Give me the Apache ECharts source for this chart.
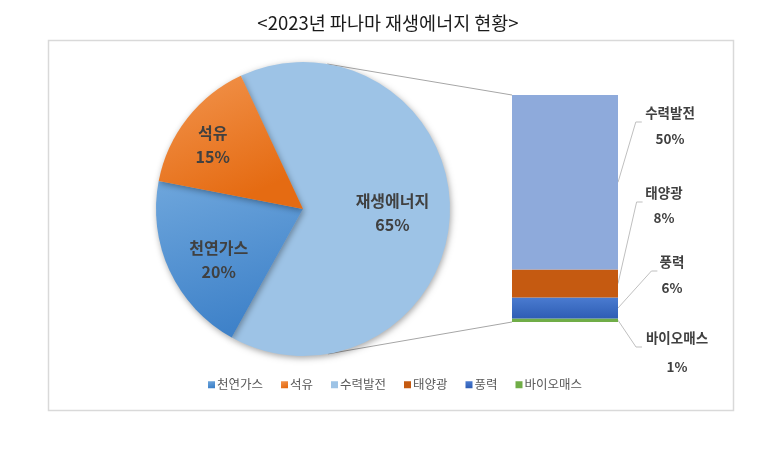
<!DOCTYPE html>
<html><head><meta charset="utf-8">
<script src="https://cdn.jsdelivr.net/npm/echarts@6/dist/echarts.min.js"></script>
<style>html,body{margin:0;padding:0;background:#fff}#c{width:776px;height:463px}</style>
</head><body><div id="c"></div>
<script>
const titleText = '<2023년 파나마 재생에너지 현황>';
const pieNames = ['재생에너지', '천연가스', '석유'];
const pieValues = [65, 20, 15];
const barNames = ['수력발전', '태양광', '풍력', '바이오매스'];
const barValues = [50, 8, 6, 1];
const legendNames = ['천연가스', '석유', '수력발전', '태양광', '풍력', '바이오매스'];

// layout / style (not data)
const FONT = '"Noto Sans CJK KR", "Noto Sans", sans-serif';
const pieCenter = [303, 209], pieR = 147;
const grid = {left: 512, top: 95, width: 106, height: 227};
const pieColors = {
  '재생에너지': '#9dc3e6',
  '천연가스': {type:'linear', x:0, y:0, x2:0.3, y2:1, colorStops:[{offset:0,color:'#6ea6dc'},{offset:1,color:'#3f82c9'}]},
  '석유': {type:'linear', x:0, y:0, x2:0.4, y2:1, colorStops:[{offset:0,color:'#f2954f'},{offset:1,color:'#e56b12'}]}
};
const pieLabelOffset = {'재생에너지':[13,1], '천연가스':[-15,19], '석유':[-30,-17]};
const barColors = {'수력발전':'#8eaadb', '태양광':'#c55a11',
  '풍력': {type:'linear', x:0, y:0, x2:0, y2:1, colorStops:[{offset:0,color:'#4a7bd0'},{offset:1,color:'#2e5db4'}]},
  '바이오매스':'#70ad47'};
const legendColors = {'수력발전':'#9dc3e6'};
const barLabelPos = {'수력발전':[670,113,26], '태양광':[664,193,25], '풍력':[672,262,26], '바이오매스':[677,338,29]};

const chart = echarts.init(document.getElementById('c'), null, {renderer:'canvas'});

const stackOrder = barNames.slice().reverse();
const barSeries = stackOrder.map(n => ({
  name: n, type: 'bar', stack: 'r', barWidth: '100%',
  xAxisIndex: 0, yAxisIndex: 0,
  data: [barValues[barNames.indexOf(n)]],
  itemStyle: {color: barColors[n]},
  emphasis: {disabled: true},
  silent: true
}));

const option = {
  animation: false,
  title: {text: titleText, left: 'center', top: 9,
    textStyle: {fontFamily: FONT, fontSize: 18.5, fontWeight: 'normal', color: '#1a1a1a'}},
  color: ['#5b9bd5','#ed7d31','#9dc3e6','#c55a11','#4472c4','#70ad47'],
  legend: {
    data: legendNames.map(n => ({name: n, itemStyle: legendColors[n] ? {color: legendColors[n]} : undefined})),
    bottom: 67, left: 203, icon: 'rect', itemWidth: 7, itemHeight: 7, itemGap: 18,
    textStyle: {fontFamily: FONT, fontSize: 12.5, color: '#595959', padding:[0,0,0,-3]},
    selectedMode: false
  },
  grid: grid,
  xAxis: {type: 'category', data: ['r'], show: false},
  yAxis: {type: 'value', min: 0, max: pieValues[0], show: false},
  series: [{
    type: 'pie', center: pieCenter, radius: pieR, startAngle: 115, clockwise: true,
    silent: true,
    data: pieNames.map((n,i) => ({name: n, value: pieValues[i],
      itemStyle: {color: pieColors[n]},
      label: {offset: pieLabelOffset[n]}})),
    label: {position: 'inside', formatter: '{b}\n{c}%', fontFamily: FONT, fontSize: 16,
      fontWeight: 'bold', color: '#404040', lineHeight: 24},
    labelLine: {show: false},
    itemStyle: {shadowBlur: 6, shadowColor: 'rgba(0,0,0,0.35)', shadowOffsetX: 1, shadowOffsetY: 2, borderWidth: 0}
  }].concat(barSeries)
};
chart.setOption(option);

function tangents(P) {
  const [cx, cy] = pieCenter;
  const vx = P[0]-cx, vy = P[1]-cy, d = Math.hypot(vx, vy);
  const a = Math.acos(pieR/d), base = Math.atan2(vy, vx);
  return [base+a, base-a].map(t => [cx + pieR*Math.cos(t), cy + pieR*Math.sin(t)]);
}

const gfx = [];
gfx.push({type:'rect', shape:{x:48.5, y:40.5, width:685, height:370}, style:{fill:null, stroke:'#d9d9d9', lineWidth:1.5}, z:-1, silent:true});
const topLeft = chart.convertToPixel({gridIndex:0}, [0, pieValues[0]]);
const botLeft = chart.convertToPixel({gridIndex:0}, [0, 0]);
const barL = grid.left, barR = grid.left + grid.width;
const up = tangents([barL, topLeft[1]]).sort((a,b)=>a[1]-b[1])[0];
const dn = tangents([barL, botLeft[1]]).sort((a,b)=>b[1]-a[1])[0];
gfx.push({type:'line', shape:{x1:up[0], y1:up[1], x2:barL, y2:topLeft[1]}, style:{stroke:'#a6a6a6', lineWidth:1}, silent:true});
gfx.push({type:'line', shape:{x1:dn[0], y1:dn[1], x2:barL, y2:botLeft[1]}, style:{stroke:'#a6a6a6', lineWidth:1}, silent:true});

let cum = 0;
stackOrder.forEach(n => {
  const v = barValues[barNames.indexOf(n)];
  const mid = chart.convertToPixel({gridIndex:0}, [0, cum + v/2]);
  cum += v;
  const [cx, ny, dy] = barLabelPos[n];
  const halfW = n.length * 6.8;
  const ly = ny + 9;
  gfx.push({type:'polyline', shape:{points:[[barR, mid[1]], [cx-halfW-7, ly], [cx-halfW-1, ly]]},
    style:{stroke:'#bfbfbf', lineWidth:1, fill:null}, silent:true});
  gfx.push({type:'text', x:cx, y:ny, style:{text:n, x:0, y:0, align:'center', verticalAlign:'middle',
    font:'bold 13.5px ' + FONT, fill:'#404040'}, silent:true});
  gfx.push({type:'text', x:cx, y:ny+dy, style:{text:v + '%', x:0, y:0, align:'center', verticalAlign:'middle',
    font:'bold 13.5px ' + FONT, fill:'#404040'}, silent:true});
});
chart.setOption({graphic: gfx});
</script></body></html>
